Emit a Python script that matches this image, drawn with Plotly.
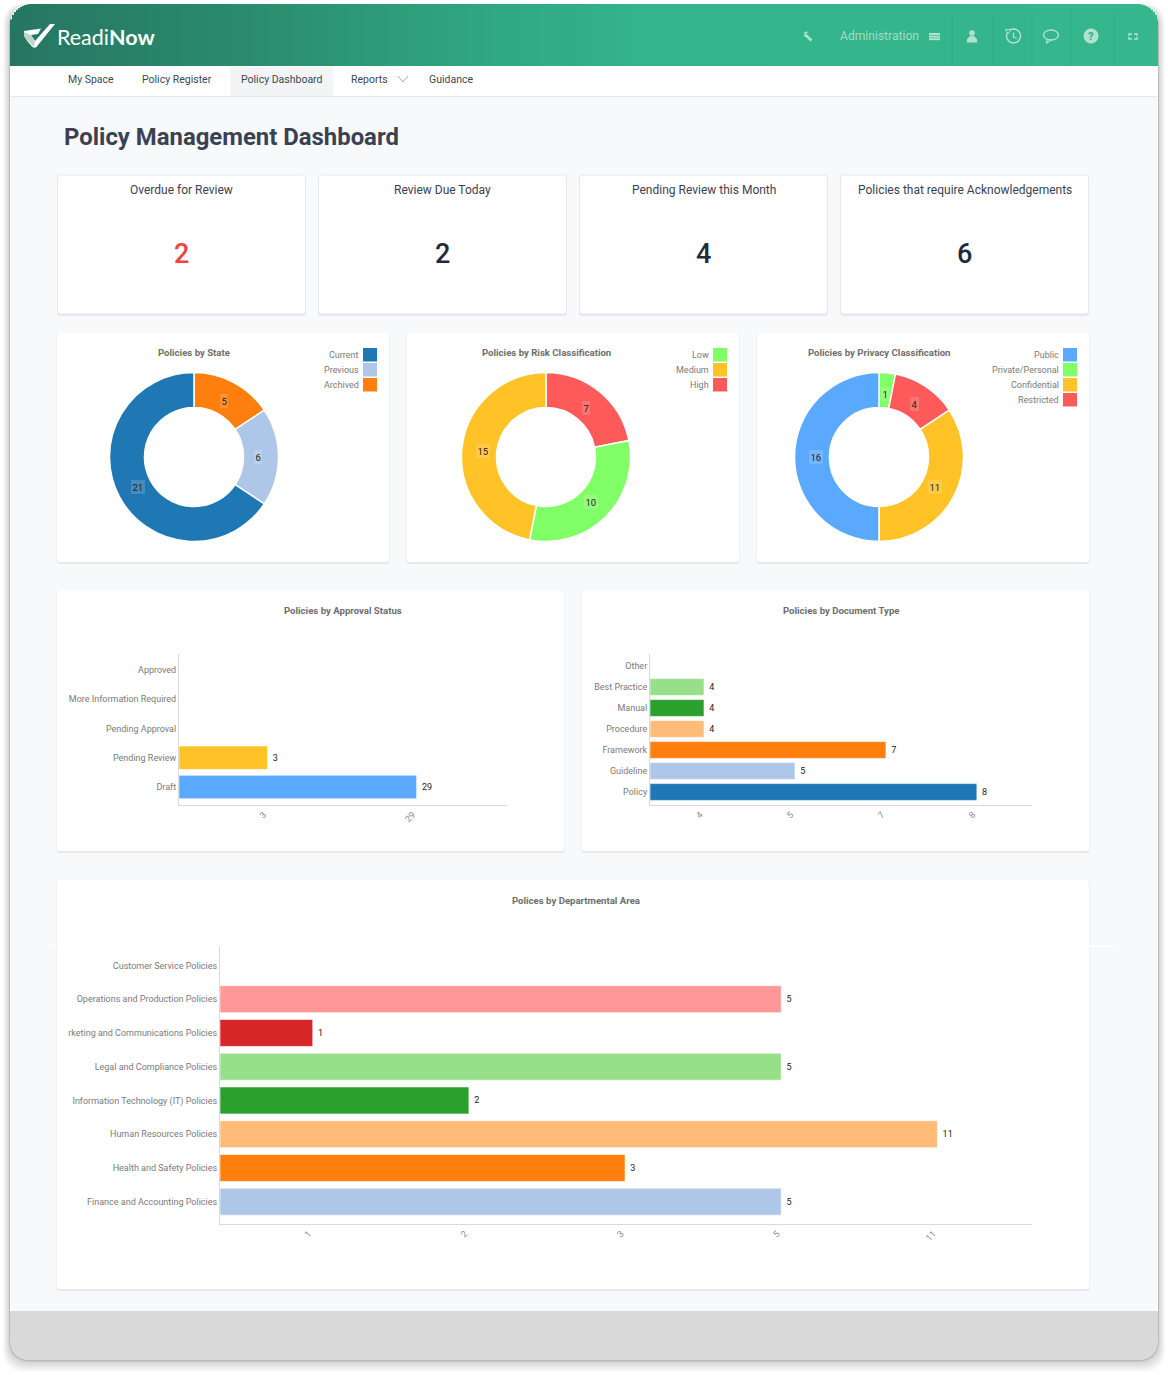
import math
import plotly.graph_objects as go

W, H = 1168, 1375

# ---------- data ----------
kpi_titles = ["Overdue for Review", "Review Due Today", "Pending Review this Month",
              "Policies that require Acknowledgements"]
kpi_values = [2, 2, 4, 6]

state_labels = ["Archived", "Previous", "Current"]
state_values = [5, 6, 21]
state_legend = ["Current", "Previous", "Archived"]

risk_labels = ["High", "Low", "Medium"]
risk_values = [7, 10, 15]
risk_legend = ["Low", "Medium", "High"]

privacy_labels = ["Private/Personal", "Restricted", "Confidential", "Public"]
privacy_values = [1, 4, 11, 16]
privacy_legend = ["Public", "Private/Personal", "Confidential", "Restricted"]

approval_cats = ["Approved", "More Information Required", "Pending Approval", "Pending Review", "Draft"]
approval_vals = [None, None, None, 3, 29]

doctype_cats = ["Other", "Best Practice", "Manual", "Procedure", "Framework", "Guideline", "Policy"]
doctype_vals = [None, 4, 4, 4, 7, 5, 8]

dept_cats = ["Customer Service Policies", "Operations and Production Policies",
             "rketing and Communications Policies", "Legal and Compliance Policies",
             "Information Technology (IT) Policies", "Human Resources Policies",
             "Health and Safety Policies", "Finance and Accounting Policies"]
dept_vals = [None, 5, 1, 5, 2, 11, 3, 5]

nav_items = ["My Space", "Policy Register", "Policy Dashboard", "Reports", "Guidance"]

# ---------- styles ----------
BLUE, LBLUE, ORANGE, LORANGE = "#1f77b4", "#aec7e8", "#ff7f0e", "#ffbb78"
GREEN, LGREEN, RED, LRED = "#2ca02c", "#98df8a", "#d62728", "#ff9896"
SKY, LIME, AMBER, CORAL = "#5aa9ff", "#80ff66", "#ffc227", "#ff5a5a"
FONT = "Roboto"

state_colors = {"Current": BLUE, "Previous": LBLUE, "Archived": ORANGE}
risk_colors = {"Low": LIME, "Medium": AMBER, "High": CORAL}
privacy_colors = {"Public": SKY, "Private/Personal": LIME, "Confidential": AMBER, "Restricted": CORAL}
approval_colors = [None, None, None, AMBER, SKY]
doctype_colors = [None, LGREEN, GREEN, LORANGE, ORANGE, LBLUE, BLUE]
dept_colors = [None, LRED, RED, LGREEN, GREEN, LORANGE, ORANGE, LBLUE]


def X(x):
    return x / W


def Y(y):
    return 1 - y / H


shapes, annotations = [], []


def rrect_path(x0, y0, x1, y1, r=3, rb=None):
    rb = r if rb is None else rb
    return (f"M{X(x0+r):.6f},{Y(y0):.6f} L{X(x1-r):.6f},{Y(y0):.6f} "
            f"Q{X(x1):.6f},{Y(y0):.6f} {X(x1):.6f},{Y(y0+r):.6f} "
            f"L{X(x1):.6f},{Y(y1-rb):.6f} Q{X(x1):.6f},{Y(y1):.6f} {X(x1-rb):.6f},{Y(y1):.6f} "
            f"L{X(x0+rb):.6f},{Y(y1):.6f} Q{X(x0):.6f},{Y(y1):.6f} {X(x0):.6f},{Y(y1-rb):.6f} "
            f"L{X(x0):.6f},{Y(y0+r):.6f} Q{X(x0):.6f},{Y(y0):.6f} {X(x0+r):.6f},{Y(y0):.6f} Z")


def path(d, fill=None, line=None, lw=0, layer="below"):
    s = dict(type="path", xref="paper", yref="paper", path=d, layer=layer)
    if fill:
        s["fillcolor"] = fill
    s["line"] = dict(color=line or "rgba(0,0,0,0)", width=lw)
    shapes.append(s)


def poly(pts, fill=None, line=None, lw=0, close=True):
    d = "M" + " L".join(f"{X(a):.6f},{Y(b):.6f}" for a, b in pts) + (" Z" if close else "")
    path(d, fill, line, lw)


def rect(x0, y0, x1, y1, fill, layer="below"):
    shapes.append(dict(type="rect", xref="paper", yref="paper", x0=X(x0), x1=X(x1), y0=Y(y1), y1=Y(y0),
                       fillcolor=fill, line=dict(width=0), layer=layer))


def circle(cx, cy, rx, ry=None, fill=None, line=None, lw=0):
    ry = rx if ry is None else ry
    shapes.append(dict(type="circle", xref="paper", yref="paper", x0=X(cx-rx), x1=X(cx+rx),
                       y0=Y(cy+ry), y1=Y(cy-ry), fillcolor=fill or "rgba(0,0,0,0)",
                       line=dict(color=line or "rgba(0,0,0,0)", width=lw), layer="below"))


def text(x, y, s, size=10, color="#666", anchor="center", weight=400, family=FONT, bg=None):
    a = dict(xref="paper", yref="paper", x=X(x), y=Y(y), text=s, showarrow=False,
             xanchor=anchor, yanchor="middle", borderpad=0, borderwidth=0,
             font=dict(size=size, color=color, family=family, weight=weight))
    if bg:
        a["bgcolor"] = bg
        a["borderpad"] = 1.5
    annotations.append(a)


# ---------- outer frame ----------
FX0, FY0, FX1, FY1 = 10, 4, 1158, 1360
for i in range(12, 0, -1):
    path(rrect_path(FX0 - i*0.6, FY0 + 2 - i*0.2, FX1 + i*0.6, FY1 + i, 22), fill="rgba(0,0,0,0.014)")
path(rrect_path(FX0 - 1, FY0 + 3, FX1 + 1, FY1 + 1.5, 22), fill="#b9bcbf")
path(rrect_path(FX0, FY0, FX1, FY1, 22), fill="#f8f9fb")

# footer
path(rrect_path(FX0, 1311, FX1, FY1, 0.01, 22), fill="#d9d9d9")

# header gradient made of narrow strips
HR = 22
stops = [(10, (38, 118, 97)), (250, (42, 140, 110)), (500, (48, 168, 130)), (640, (52, 180, 139)), (1158, (53, 182, 140))]


def grad(x):
    for (a, ca), (b, cb) in zip(stops, stops[1:]):
        if x <= b:
            t = (x - a) / (b - a)
            return "rgb(%d,%d,%d)" % tuple(round(p + (q - p) * t) for p, q in zip(ca, cb))
    return "rgb(53,182,140)"


x = FX0
while x < FX1:
    step = 2 if (x < FX0 + HR or x >= FX1 - HR) else 6
    x2 = min(x + step, FX1)
    mid = (x + x2) / 2
    dx = max(FX0 + HR - mid, mid - (FX1 - HR), 0)
    top = FY0 + HR - math.sqrt(max(HR*HR - dx*dx, 0))
    rect(x, top, min(x2 + 1, FX1), 66, grad(mid))
    x = x2

# nav
rect(FX0, 66, FX1, 96, "#ffffff")
rect(FX0, 96, FX1, 97, "#e6e8ec")
rect(230, 67, 333, 96, "#f3f4f6")
nav_x = [68, 142, 241, 351, 429]
for nx, item in zip(nav_x, nav_items):
    text(nx, 79.5, item, 10.5, "#3f4652", "left")
poly([(398, 76), (403, 82), (408, 76)], line="#8d939c", lw=0.8, close=False)

# logo
poly([(24, 31), (41, 28.5), (38, 34), (31, 35), (35, 41), (50, 24), (55, 24), (36, 47.5), (33, 47.5), (28, 42), (24, 36)],
     fill="#ffffff")
poly([(24, 32), (31, 35), (35, 41), (34, 47), (29, 42), (24, 36)], fill="#c4d2cd")
text(56.5, 37, "Readi<b>Now</b>", 21.5, "#ffffff", "left", 400, "Lato")

# header right side
ICON = "#b0e2cf"
text(840, 36.5, "Administration", 12.1, "#a3dcc6", "left")
for yy in (34, 36.6, 39.2):
    rect(929, yy - 1, 940, yy + 1, ICON)
for dv in (952, 993, 1032, 1071, 1114):
    rect(dv - 0.4, 12, dv + 0.4, 66, "rgba(35,140,108,0.3)")
poly([(805.5, 35), (811.5, 40.5)], line=ICON, lw=2.6, close=False)
poly([(807.5, 32), (805, 33), (805, 36), (808, 36)], line=ICON, lw=1.5, close=False)
circle(972, 33, 2.8, fill=ICON)
poly([(970, 36), (974, 36), (977, 39), (977, 42.5), (967, 42.5), (967, 39)], fill=ICON)
circle(1013.5, 36, 7, line=ICON, lw=1.5)
poly([(1013.5, 32.5), (1013.5, 37), (1017, 38.5)], line=ICON, lw=1.3, close=False)
poly([(1005.5, 29.5), (1011, 29.5), (1008, 34)], fill="#35b68c", line=ICON, lw=1)
circle(1051, 35, 7.5, 5, line=ICON, lw=1.4)
poly([(1047, 39.5), (1046.5, 43), (1051, 40)], fill="#35b68c", line=ICON, lw=1.1)
circle(1091, 36, 7.5, fill=ICON)
text(1091, 36.5, "?", 11, "#35b68c", "center", 900)
poly([(1129, 36), (1129, 34), (1132, 34)], line=ICON, lw=1.5, close=False)
poly([(1134, 34), (1137, 34), (1137, 36)], line=ICON, lw=1.5, close=False)
poly([(1129, 37), (1129, 39), (1132, 39)], line=ICON, lw=1.5, close=False)
poly([(1134, 39), (1137, 39), (1137, 37)], line=ICON, lw=1.5, close=False)

# title
text(64, 137.5, "Policy Management Dashboard", 23.9, "#3a4252", "left", 700)


def card(x0, y0, x1, y1, border=False):
    path(rrect_path(x0 - 0.5, y0, x1 + 0.5, y1 + 2, 3), fill="#e8e9ec")
    path(rrect_path(x0, y0, x1, y1, 3), fill="#ffffff", line="#e5e7eb" if border else None, lw=1 if border else 0)


# KPI cards
kpi_x = [57.5, 318.5, 579.5, 840.5]
for kx, kt, kv, kc in zip(kpi_x, kpi_titles, kpi_values, ["#ef4444", "#1f2a3c", "#1f2a3c", "#1f2a3c"]):
    card(kx, 175, kx + 248, 314, border=True)
    text(kx + 124, 190, kt, 12, "#3a4252")
    text(kx + 124, 254, str(kv), 27, kc, "center", 500)

# chart cards
for a, b in ((57, 389), (407, 739), (757, 1089)):
    card(a, 333, b, 562)
card(57, 590, 564, 851)
card(582, 590, 1089, 851)
card(57, 880, 1089, 1289)
rect(50, 945.6, 1117, 947, "#ffffff")

# ---------- figure ----------
fig = go.Figure()

R = 84.5
HOLE = 0.586
LABEL_R = 63.5
pie_specs = [
    (194, "Policies by State", state_labels, state_values, state_legend, state_colors, 377),
    (546, "Policies by Risk Classification", risk_labels, risk_values, risk_legend, risk_colors, 727),
    (879, "Policies by Privacy Classification", privacy_labels, privacy_values, privacy_legend, privacy_colors, 1077),
]
CY = 457
for cx, title, labels, values, legend, colors, sw_right in pie_specs:
    fig.add_trace(go.Pie(
        labels=labels, values=values, sort=False, direction="clockwise", rotation=0, hole=HOLE,
        marker=dict(colors=[colors[l] for l in labels], line=dict(color="#ffffff", width=1.5)),
        textinfo="none", showlegend=False,
        domain=dict(x=[X(cx - R), X(cx + R)], y=[Y(CY + R), Y(CY - R)]),
    ))
    text(cx, 353, title, 9.6, "#6e6e6e", "center", 700)
    for i, name in enumerate(legend):
        yy = 355 + 15 * i
        text(sw_right - 18, yy - 0.2, name, 9, "#7a7a7a", "right")
        rect(sw_right - 14, yy - 7, sw_right, yy + 6.5, colors[name])
    # value labels at the mid-angle of each slice
    total = sum(values)
    acc = 0
    for v in values:
        ang = (acc + v / 2) / total * 2 * math.pi
        acc += v
        text(cx + LABEL_R * math.sin(ang), CY - LABEL_R * math.cos(ang), str(v), 9.5, "#222222",
             bg="rgba(255,255,255,0.16)")

bar_specs = [
    ("", approval_cats, approval_vals, approval_colors, (179, 507), (654, 805), 787, 29.3, "Policies by Approval Status", 343, 611),
    ("2", doctype_cats, doctype_vals, doctype_colors, (650, 1032), (654, 805), 792, 21.0, "Policies by Document Type", 841, 611),
    ("3", dept_cats, dept_vals, dept_colors, (220, 1032), (947, 1224), 1201.7, 33.75, "Polices by Departmental Area", 576, 901),
]
layout_axes = {}
for sfx, cats, vals, cols, (xa, xb), (ya, yb), y_last, band, title, tx, ty in bar_specs:
    uniq = sorted({v for v in vals if v is not None})
    pos = {v: i + 0.594 for i, v in enumerate(uniq)}
    span = len(uniq) + 0.2
    tick_shift = 4 * span / (xb - xa)
    fig.add_trace(go.Bar(
        y=cats, x=[pos.get(v) for v in vals], orientation="h", width=0.8,
        xaxis="x" + sfx, yaxis="y" + sfx, showlegend=False, cliponaxis=False,
        marker=dict(color=[c or "rgba(0,0,0,0)" for c in cols],
                    line=dict(color="rgba(255,255,255,0.6)", width=1)),
        text=["\u00a0" + str(v) if v is not None else "" for v in vals],
        textposition="outside", textfont=dict(size=9, color="#222222", family=FONT),
    ))
    layout_axes["xaxis" + sfx] = dict(
        domain=[X(xa), X(xb)], range=[0, span], anchor="y" + sfx,
        tickmode="array", tickvals=[pos[v] - tick_shift for v in uniq], ticktext=[str(v) for v in uniq],
        tickangle=-45, tickfont=dict(size=9, color="#8a8a8a", family=FONT),
        showgrid=False, zeroline=False, showline=True, linecolor="#d9d9d9", linewidth=1, ticks="",
    )
    layout_axes["yaxis" + sfx] = dict(
        domain=[Y(yb), Y(ya)], anchor="x" + sfx, type="category",
        categoryorder="array", categoryarray=cats[::-1],
        range=[-(yb - y_last) / band, (y_last - ya) / band],
        tickfont=dict(size=9, color="#7a7a7a", family=FONT),
        showgrid=False, zeroline=False, showline=True, linecolor="#d9d9d9", linewidth=1, ticks="",
    )
    text(tx, ty, title, 9.6, "#6e6e6e", "center", 700)

fig.update_layout(
    width=W, height=H, autosize=False, margin=dict(l=0, r=0, t=0, b=0, pad=0),
    paper_bgcolor="#ffffff", plot_bgcolor="rgba(0,0,0,0)", showlegend=False,
    font=dict(family=FONT), shapes=shapes, annotations=annotations, **layout_axes,
)
fig.write_html("out.html", config={"displayModeBar": False},
               post_script="document.body.style.margin='0';document.body.style.overflow='hidden';")
